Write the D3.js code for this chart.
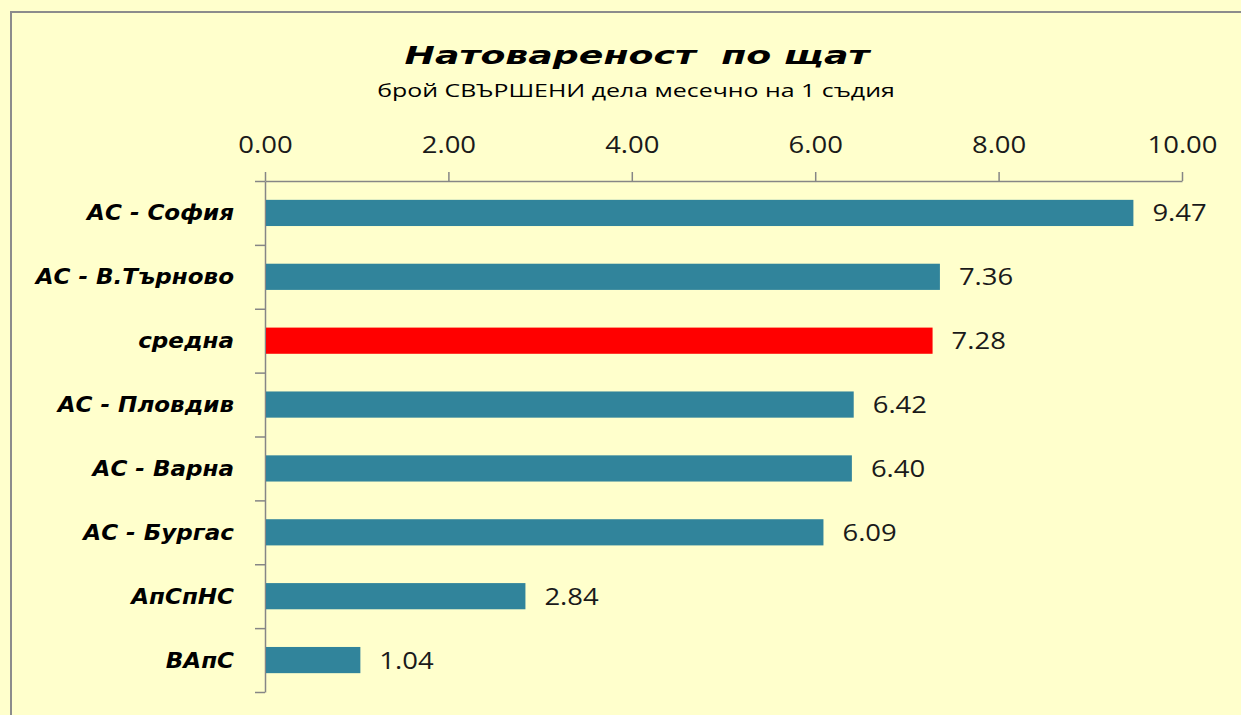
<!DOCTYPE html>
<html>
<head>
<meta charset="utf-8">
<script src="https://cdn.jsdelivr.net/npm/d3@7"></script>
<style>
  html, body { margin: 0; padding: 0; background: #ffffcc; overflow: hidden; }
  text { font-family: "Open Sans", "DejaVu Sans", sans-serif; }
  text.bi { font-family: "DejaVu Sans", sans-serif; font-weight: bold; font-style: oblique; }
</style>
</head>
<body>
<div id="chart"></div>
<script>
const categories = ["АС - София", "АС - В.Търново", "средна", "АС - Пловдив", "АС - Варна", "АС - Бургас", "АпСпНС", "ВАпС"];
const values = [9.47, 7.36, 7.28, 6.42, 6.40, 6.09, 2.84, 1.04];
const highlighted = ["средна"];
const tickValues = [0, 2, 4, 6, 8, 10];
const title = "Натовареност  по щат";
const subtitle = "брой СВЪРШЕНИ дела месечно на 1 съдия";

const width = 1241, height = 715;
const data = categories.map((c, i) => ({ label: c, value: values[i] }));

const svg = d3.select("#chart").append("svg")
  .attr("width", width)
  .attr("height", height);

svg.append("rect")
  .attr("x", 0).attr("y", 0).attr("width", width).attr("height", height)
  .attr("fill", "#ffffcc");

// chart area border (runs off the right and bottom edges)
svg.append("rect")
  .attr("x", 11).attr("y", 12).attr("width", 1260).attr("height", 740)
  .attr("fill", "#ffffcc")
  .attr("stroke", "#8c8c8c")
  .attr("stroke-width", 2);

const x = d3.scaleLinear().domain([0, 10]).range([265, 1182]);
const y = d3.scaleBand().domain(categories).range([181, 692])
  .paddingInner(0.59).paddingOuter(0.295);
const yEdge = d3.scaleLinear().domain([0, categories.length]).range([181, 692]);

// stretch a group of texts horizontally so a sample one hits a target width
function stretch(sample, target) {
  const w = sample.node().getComputedTextLength();
  return target / w;
}

// titles
const t1 = svg.append("text")
  .attr("class", "bi")
  .attr("font-size", 25)
  .attr("text-anchor", "middle").attr("fill", "#000")
  .style("white-space", "pre")
  .text(title);
const k1 = stretch(t1, 465);
t1.attr("transform", `translate(637,64) scale(${k1},1)`);

const t2 = svg.append("text")
  .attr("font-size", 17.5)
  .attr("text-anchor", "middle").attr("fill", "#000")
  .text(subtitle);
const k2 = stretch(t2, 518);
t2.attr("transform", `translate(636,97) scale(${k2},1)`);

// top value axis
const xAxis = svg.append("g")
  .attr("transform", `translate(0,${y.range()[0]})`)
  .call(d3.axisTop(x).tickValues(tickValues).tickFormat(d3.format(".2f"))
    .tickSize(9).tickSizeOuter(0).tickPadding(19));
xAxis.selectAll("path, line").attr("stroke", "#868686").attr("stroke-width", 1.5);
xAxis.selectAll("text")
  .attr("font-size", 23.5).attr("fill", "#1a1a1a")
  .style("font-family", '"Open Sans", "DejaVu Sans", sans-serif');
const kx = stretch(xAxis.selectAll("text").filter(d => d === 10), 70);
xAxis.selectAll("text").attr("transform", `scale(${kx},1)`);

// category axis (ticks between bands)
const yAxis = svg.append("g")
  .attr("transform", `translate(${x(0)},0)`)
  .call(d3.axisLeft(yEdge).tickValues(d3.range(categories.length + 1))
    .tickFormat("").tickSize(10).tickSizeOuter(0));
yAxis.selectAll("path, line").attr("stroke", "#868686").attr("stroke-width", 1.5);

// bars
svg.append("g").selectAll("rect")
  .data(data)
  .join("rect")
  .attr("x", x(0) + 1)
  .attr("y", d => y(d.label))
  .attr("width", d => x(d.value) - x(0) - 1)
  .attr("height", y.bandwidth())
  .attr("fill", d => highlighted.includes(d.label) ? "#ff0000" : "#31849b");

// category labels
const cat = svg.append("g").selectAll("text")
  .data(data)
  .join("text")
  .attr("class", "bi")
  .attr("font-size", 20.5)
  .attr("text-anchor", "end").attr("fill", "#000")
  .text(d => d.label);
const kc = stretch(cat.filter((d, i) => i === 0), 147);
cat.attr("transform", d => `translate(234,${y(d.label) + y.bandwidth() / 2 + 7.5}) scale(${kc},1)`);

// value labels
const vals = svg.append("g").selectAll("text")
  .data(data)
  .join("text")
  .attr("font-size", 23.5).attr("fill", "#1a1a1a")
  .text(d => d3.format(".2f")(d.value));
vals.attr("transform", d => `translate(${x(d.value) + 19},${y(d.label) + y.bandwidth() / 2 + 8.5}) scale(${kx},1)`);
</script>
</body>
</html>
